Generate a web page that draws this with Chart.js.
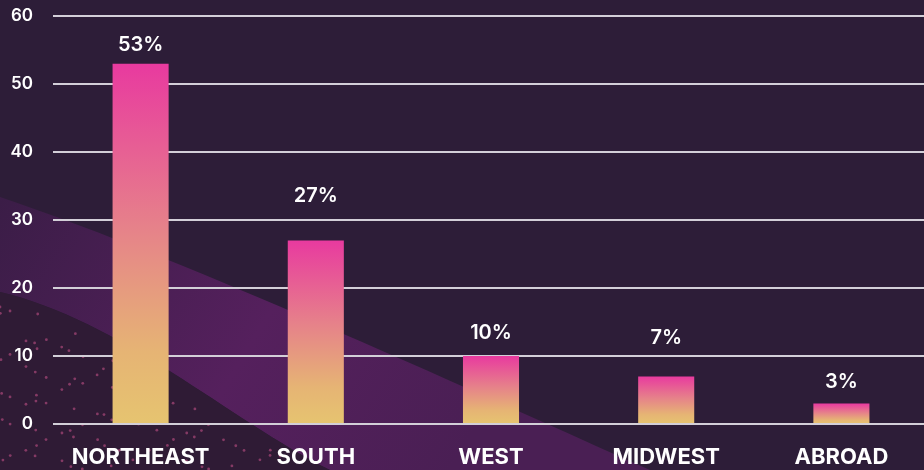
<!DOCTYPE html>
<html>
<head>
<meta charset="utf-8">
<script src="https://cdn.jsdelivr.net/npm/chart.js@4.4.1/dist/chart.umd.min.js"></script>
<style>
	html, body { margin: 0; padding: 0; overflow: hidden; background: #2d1d38; height: 470px; }
	#wrap { width: 929px; height: 484px; position: relative; margin-top: -14px; }
</style>
</head>
<body>
<div id="wrap"><canvas id="chart"></canvas></div>
<script>
// data
const regions = ['NORTHEAST', 'SOUTH', 'WEST', 'MIDWEST', 'ABROAD'];
const shares = [53, 27, 10, 7, 3];
const yTicks = [0, 10, 20, 30, 40, 50, 60];

// how far above each bar its label sits (px)
const labelLift = [19, 45, 23, 38, 22];

const FONT = "Inter, 'DejaVu Sans', sans-serif";
const SHIFT = 14; // canvas sits this far above the page top

// background: dark purple with a lighter diagonal band and some dots
const backdrop = {
	id: 'backdrop',
	beforeDraw(chart) {
		const c = chart.ctx;
		const w = chart.width, h = chart.height;
		c.save();
		c.fillStyle = '#2d1d38';
		c.fillRect(0, 0, w, h);
		c.translate(0, SHIFT);

		// band
		let g = c.createLinearGradient(0, 200, 450, 470);
		g.addColorStop(0, '#3b1d47');
		g.addColorStop(0.55, '#55205d');
		g.addColorStop(1, '#4a1f54');
		c.fillStyle = g;
		c.beginPath();
		c.moveTo(0, 197);
		c.bezierCurveTo(170, 255, 360, 340, 650, 470);
		c.lineTo(330, 470);
		c.bezierCurveTo(230, 420, 120, 320, 0, 292);
		c.closePath();
		c.fill();

		// dark dotted corner
		c.fillStyle = '#2f1b35';
		c.beginPath();
		c.moveTo(0, 292);
		c.bezierCurveTo(120, 320, 230, 420, 330, 470);
		c.lineTo(0, 470);
		c.closePath();
		c.fill();

		c.fillStyle = 'rgba(220, 90, 150, 0.5)';
		for (let r = 0; r < 10; r++) {
			for (let k = 0; k < 20; k++) {
				const x = k * 18 + 8 * Math.sin(r * 3.1 + k * 1.7);
				const y = 300 + r * 18 + 7 * Math.cos(r * 2.3 + k * 0.9);
				if (y < 292 + x * 0.55 || x < 0) continue;
				c.beginPath();
				c.arc(x, y, 1.4, 0, Math.PI * 2);
				c.fill();
			}
		}
		c.restore();
	}
};

// value labels above the bars
const valueLabels = {
	id: 'valueLabels',
	afterDatasetsDraw(chart) {
		const c = chart.ctx;
		const meta = chart.getDatasetMeta(0);
		c.save();
		c.fillStyle = '#ffffff';
		c.font = "600 20px " + FONT;
		c.textAlign = 'center';
		c.textBaseline = 'middle';
		meta.data.forEach((bar, i) => {
			c.fillText(shares[i] + '%', bar.x, bar.y - labelLift[i]);
		});
		c.restore();
	}
};

// each bar goes pink at its top to yellow at its base
function barGradient(context) {
	const chart = context.chart;
	const y = chart.scales && chart.scales.y;
	if (!chart.chartArea || !y || context.type !== 'data') return '#e6c470';
	const top = y.getPixelForValue(context.raw);
	const bottom = y.getPixelForValue(0);
	if (!isFinite(top) || !isFinite(bottom) || top === bottom) return '#e6c470';
	const g = chart.ctx.createLinearGradient(0, top, 0, bottom);
	g.addColorStop(0, '#e83a9f');
	g.addColorStop(0.45, '#e6818a');
	g.addColorStop(0.8, '#e6b474');
	g.addColorStop(1, '#e6c470');
	return g;
}

new Chart(document.getElementById('chart'), {
	type: 'bar',
	data: {
		labels: regions,
		datasets: [{
			data: shares,
			backgroundColor: barGradient,
			borderWidth: 0,
			barPercentage: 0.32,
			categoryPercentage: 1
		}]
	},
	options: {
		responsive: true,
		maintainAspectRatio: false,
		animation: false,
		layout: { padding: { top: 1, right: 0, left: 0, bottom: 0 } },
		plugins: {
			legend: { display: false },
			tooltip: { enabled: false }
		},
		scales: {
			x: {
				grid: { display: false, drawTicks: false },
				border: { display: false },
				ticks: {
					color: '#ffffff',
					padding: 20,
					font: { family: FONT, size: 22, weight: '700' }
				},
				afterFit(scale) { scale.height = 46; }
			},
			y: {
				min: 0,
				max: 60,
				afterBuildTicks(scale) { scale.ticks = yTicks.map(v => ({ value: v })); },
				grid: { color: '#d3cfd8', lineWidth: 2, drawTicks: false },
				border: { display: false },
				ticks: {
					color: '#ffffff',
					padding: 20,
					font: { family: FONT, size: 17, weight: '600' }
				},
				afterFit(scale) { scale.width = 53; }
			}
		}
	},
	plugins: [backdrop, valueLabels]
});
</script>
</body>
</html>
